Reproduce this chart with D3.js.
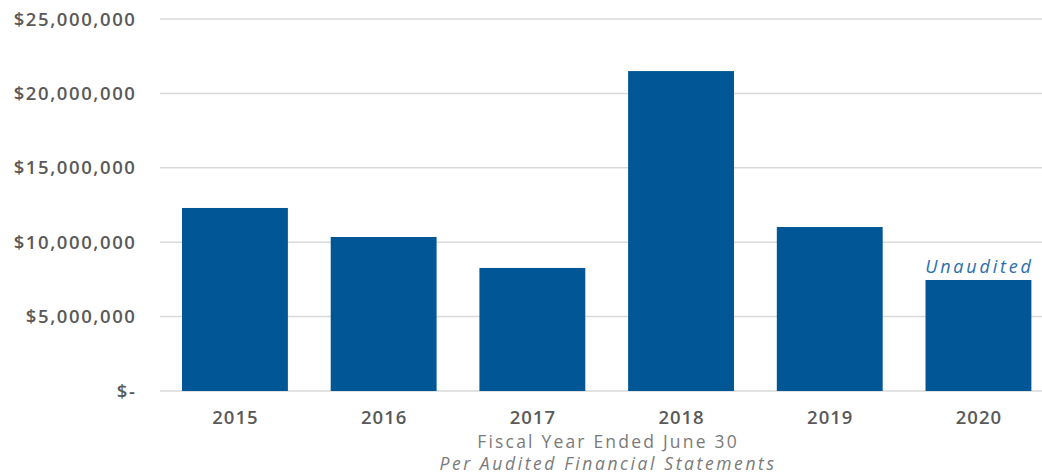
<!DOCTYPE html>
<html><head><meta charset="utf-8">
<script src="https://cdn.jsdelivr.net/npm/d3@7"></script>
<style>body{margin:0;background:#fff}svg{display:block}</style>
</head><body>
<script>
const categories = ["2015","2016","2017","2018","2019","2020"];
const values = [12300000, 10350000, 8270000, 21500000, 11020000, 7460000];
const yTicks = [0, 5000000, 10000000, 15000000, 20000000, 25000000];
const tickLabels = ["$-", "$5,000,000", "$10,000,000", "$15,000,000", "$20,000,000", "$25,000,000"];
const xTitle = "Fiscal Year Ended June 30";
const xSubtitle = "Per Audited Financial Statements";
const note = "Unaudited";

const W = 1042, H = 476;
const svg = d3.select("body").append("svg").attr("width", W).attr("height", H);
const x = d3.scaleBand().domain(categories).range([160.6, 1052.8]).paddingInner(0.288).paddingOuter(0.144);
const y = d3.scaleLinear().domain([0, 25000000]).range([391, 19]);

svg.append("g").selectAll("line").data(yTicks).join("line")
  .attr("x1", 160).attr("x2", W).attr("y1", d => y(d)).attr("y2", d => y(d))
  .attr("stroke", "#d9d9d9").attr("stroke-width", 1.5);

svg.append("g").selectAll("text").data(yTicks).join("text")
  .attr("x", 136.5).attr("y", d => y(d)).attr("dy", "0.36em").attr("text-anchor", "end")
  .attr("font-family", "Open Sans").attr("font-weight", 600).attr("font-size", 18.5)
  .attr("letter-spacing", 1.6)
  .attr("fill", "#595959").text((d, i) => tickLabels[i]);

svg.append("g").selectAll("rect").data(values).join("rect")
  .attr("x", (d, i) => x(categories[i])).attr("width", x.bandwidth())
  .attr("y", d => y(d)).attr("height", d => y(0) - y(d)).attr("fill", "#015695");

svg.append("g").selectAll("text").data(categories).join("text")
  .attr("x", d => x(d) + x.bandwidth() / 2 + 0.5).attr("y", 424).attr("text-anchor", "middle")
  .attr("font-family", "Open Sans").attr("font-weight", 600).attr("font-size", 18.5)
  .attr("letter-spacing", 1)
  .attr("fill", "#595959").text(d => d);

svg.append("text").attr("x", 608).attr("y", 448).attr("text-anchor", "middle")
  .attr("font-family", "Open Sans").attr("font-size", 17.5).attr("fill", "#7a7a7a")
  .attr("letter-spacing", 2.2).text(xTitle);
svg.append("text").attr("x", 608).attr("y", 470).attr("text-anchor", "middle")
  .attr("font-family", "Open Sans").attr("font-style", "italic").attr("font-size", 17.5).attr("fill", "#7a7a7a")
  .attr("letter-spacing", 2.6).text(xSubtitle);

svg.append("text").attr("x", x("2020") + x.bandwidth() / 2 + 1).attr("y", y(values[5]) - 7).attr("text-anchor", "middle")
  .attr("font-family", "Open Sans").attr("font-style", "italic").attr("font-size", 18).attr("fill", "#2a6ead")
  .attr("letter-spacing", 2.8).text(note);
</script>
</body></html>
